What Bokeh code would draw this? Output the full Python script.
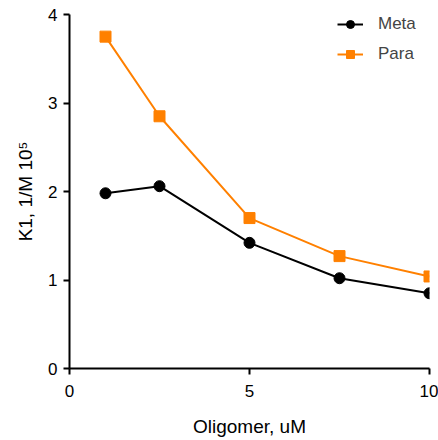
from bokeh.plotting import figure
from bokeh.models import Range1d, FixedTicker, Legend, LegendItem
from bokeh.embed import file_html
from bokeh.resources import INLINE

# Data
oligomer = [1, 2.5, 5, 7.5, 10]
meta = [1.98, 2.06, 1.42, 1.02, 0.85]
para = [3.75, 2.85, 1.70, 1.27, 1.04]
x_ticks = [0, 5, 10]
y_ticks = [0, 1, 2, 3, 4]

FONT = "Liberation Sans"
ORANGE = "#FF8000"

p = figure(width=438, height=440, output_backend="svg", toolbar_location=None,
           x_range=Range1d(0, 10), y_range=Range1d(0, 4),
           min_border_left=69, min_border_right=9, min_border_top=14, min_border_bottom=72)
p.frame_width = 360
p.frame_height = 354
p.outline_line_color = None
p.grid.grid_line_color = None
p.background_fill_color = "white"
p.border_fill_color = "white"

for ax in (p.xaxis[0], p.yaxis[0]):
    ax.axis_line_width = 2
    ax.axis_line_color = "black"
    ax.major_tick_line_width = 2
    ax.major_tick_line_color = "black"
    ax.major_tick_out = 6
    ax.major_tick_in = 0
    ax.minor_tick_line_color = None
    ax.major_label_text_font = FONT
    ax.major_label_text_font_size = "17px"
    ax.major_label_text_color = "black"
    ax.axis_label_text_font = FONT
    ax.axis_label_text_font_style = "normal"
    ax.axis_label_text_font_size = "19px"
    ax.axis_label_text_color = "black"

p.xaxis.ticker = FixedTicker(ticks=x_ticks)
p.yaxis.ticker = FixedTicker(ticks=y_ticks)
p.xaxis.major_label_standoff = 10
p.yaxis.major_label_standoff = 6
p.xaxis.axis_label = "Oligomer, uM"
p.yaxis.axis_label = "K1, 1/M 10\u2075"
p.xaxis.axis_label_standoff = 16
p.yaxis.axis_label_standoff = 9

l1 = p.line(oligomer, meta, line_color="black", line_width=2)
s1 = p.scatter(oligomer, meta, marker="circle", size=11, fill_color="black", line_color="black")
l2 = p.line(oligomer, para, line_color=ORANGE, line_width=2)
s2 = p.scatter(oligomer, para, marker="square", size=11, fill_color=ORANGE, line_color=ORANGE)

legend = Legend(items=[LegendItem(label="Meta", renderers=[l1, s1]),
                       LegendItem(label="Para", renderers=[l2, s2])],
                location=(268, 304))
legend.border_line_color = None
legend.background_fill_alpha = 0
legend.label_text_font = FONT
legend.label_text_font_size = "17px"
legend.glyph_width = 26
legend.glyph_height = 20
legend.label_height = 20
legend.label_standoff = 15
legend.spacing = 10
legend.padding = 2
legend.margin = 0
p.add_layout(legend)

open("out.html", "w").write(file_html(p, INLINE))
